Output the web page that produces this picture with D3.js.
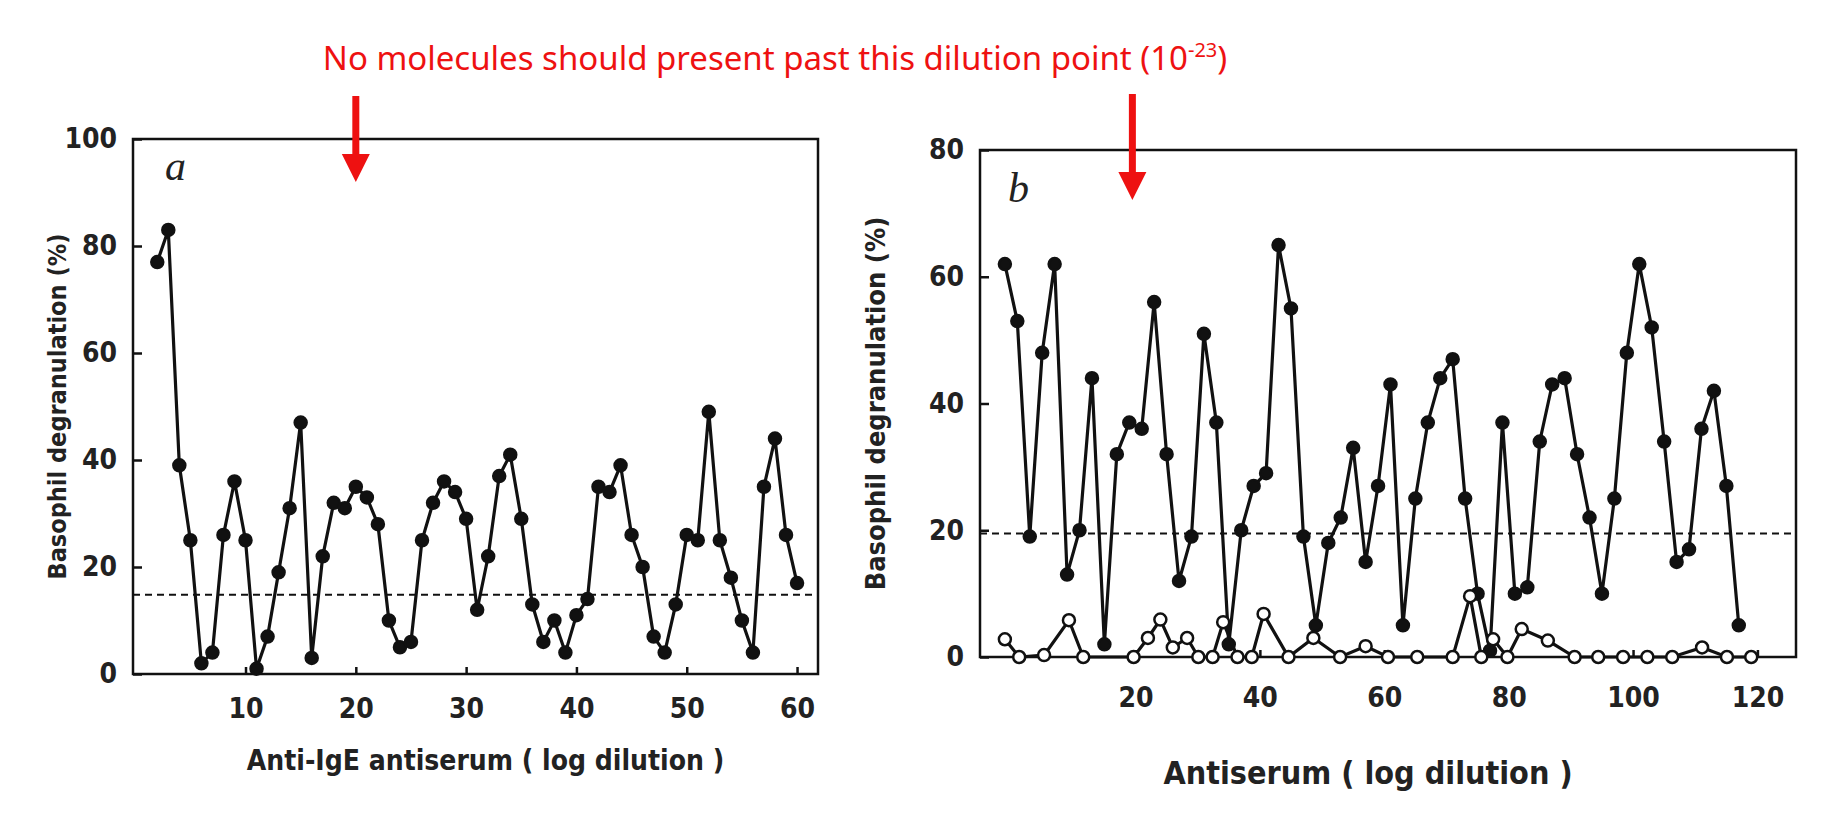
<script src="https://cdnjs.cloudflare.com/ajax/libs/d3/7.8.5/d3.min.js"></script>
<body style="margin:0;background:#fff">
<style>
  .tick text, .lbl { font-family: "Liberation Sans Narrow", "DejaVu Sans Condensed", sans-serif; font-weight: bold; fill: #222; }
</style>
<div id="chart"></div>
<script>
// panel a: anti-IgE, one point per log dilution 2..60
var aValues = [77,83,39,25,2,4,26,36,25,1,7,19,31,47,3,22,32,31,35,33,28,10,5,6,25,32,36,34,29,12,22,37,41,29,13,6,10,4,11,14,35,34,39,26,20,7,4,13,26,25,49,25,18,10,4,35,44,26,17];
var aX = aValues.map(function(d, i) { return i + 2; });
var aThreshold = 14.8;
// panel b: closed = antiserum, open = control
var bClosed = [62,53,19,48,62,13,20,44,2,32,37,36,56,32,12,19,51,37,2,20,27,29,65,55,19,5,18,22,33,15,27,43,5,25,37,44,47,25,10,1,37,10,11,34,43,44,32,22,10,25,48,62,52,34,15,17,36,42,27,5];
var bClosedX = bClosed.map(function(d, i) { return -1 + 2 * i; });
var bOpenX = [-1,1.3,5.3,9.3,11.6,19.7,22,24,26,28.3,30.1,32.4,34.1,36.4,38.7,40.6,44.6,48.6,52.9,57,60.6,65.3,71,73.8,75.6,77.5,79.8,82.1,86.3,90.6,94.4,98.4,102.3,106.3,111.1,115.1,119];
var bOpen = [2.8,0,0.3,5.8,0,0,3,5.9,1.5,3,0,0,5.5,0,0,6.8,0,3,0,1.7,0,0,0,9.6,0,2.8,0,4.4,2.6,0,0,0,0,0,1.5,0,0];
var bThreshold = 19.5;
var aTicksX = [10,20,30,40,50,60], aTicksY = [0,20,40,60,80,100];
var bTicksX = [20,40,60,80,100,120], bTicksY = [0,20,40,60,80];

var svg = d3.select("#chart").append("svg").attr("width", 1838).attr("height", 826);

function panel(o) {
  var x = d3.scaleLinear().domain(o.xd).range([o.left, o.right]);
  var y = d3.scaleLinear().domain(o.yd).range([o.bottom, o.top]);
  var g = svg.append("g");
  g.append("rect").attr("x", o.left).attr("y", o.top).attr("width", o.right - o.left)
    .attr("height", o.bottom - o.top).attr("fill", "none").attr("stroke", "#111").attr("stroke-width", 2.5);
  var xa = g.append("g").attr("transform", "translate(0," + o.bottom + ")")
    .call(d3.axisBottom(x).tickValues(o.tx).tickSize(-7).tickPadding(o.xPad).tickSizeOuter(0));
  var ya = g.append("g").attr("transform", "translate(" + o.left + ",0)")
    .call(d3.axisLeft(y).tickValues(o.ty).tickSize(-9).tickPadding(16).tickSizeOuter(0));
  [xa, ya].forEach(function(a) {
    a.select(".domain").remove();
    a.selectAll("line").attr("stroke", "#111").attr("stroke-width", 2.5);
    a.selectAll("text").attr("font-size", 28);
  });
  g.append("line").attr("x1", o.left).attr("x2", o.right).attr("y1", y(o.thr)).attr("y2", y(o.thr))
    .attr("stroke", "#111").attr("stroke-width", 2).attr("stroke-dasharray", "7,5");
  var line = d3.line().x(function(d) { return x(d[0]); }).y(function(d) { return y(d[1]); });
  o.series.forEach(function(s) {
    var pts = s.xs.map(function(v, i) { return [v, s.ys[i]]; });
    g.append("path").datum(pts).attr("d", line).attr("fill", "none").attr("stroke", "#111").attr("stroke-width", 3.2);
    g.selectAll(null).data(pts).enter().append("circle")
      .attr("cx", function(d) { return x(d[0]); }).attr("cy", function(d) { return y(d[1]); })
      .attr("r", 6).attr("fill", s.open ? "#fff" : "#111").attr("stroke", "#111").attr("stroke-width", 2.5);
  });
  g.append("text").attr("x", o.letter[0]).attr("y", o.letter[1]).text(o.name)
    .attr("font-family", "Liberation Serif, serif").attr("font-style", "italic").attr("font-size", 42).attr("fill", "#222");
  g.append("text").attr("class", "lbl").attr("x", (o.left + o.right) / 2 + o.xtOff).attr("y", o.xtY)
    .attr("text-anchor", "middle").attr("font-size", o.xtSize).text(o.xTitle);
  g.append("text").attr("class", "lbl").attr("transform", "translate(" + o.ytX + "," + ((o.top + o.bottom) / 2) + ") rotate(-90)")
    .attr("text-anchor", "middle").attr("font-size", o.ytSize).text("Basophil degranulation (%)");
  // arrow
  var ax = x(o.arrowAt);
  g.append("line").attr("x1", ax).attr("x2", ax).attr("y1", o.arrow[0]).attr("y2", o.arrow[1] - 20)
    .attr("stroke", "#ee1111").attr("stroke-width", 7);
  g.append("path").attr("d", "M" + (ax - 14) + "," + (o.arrow[1] - 28) + "L" + (ax + 14) + "," + (o.arrow[1] - 28) + "L" + ax + "," + o.arrow[1] + "Z")
    .attr("fill", "#ee1111");
}

panel({ xd: [-0.2, 61.9], yd: [0, 100], left: 133, right: 818, top: 139, bottom: 674, tx: aTicksX, ty: aTicksY,
  thr: aThreshold, series: [{ xs: aX, ys: aValues }], letter: [165, 180], name: "a", xPad: 24,
  xTitle: "Anti-IgE antiserum  ( log dilution )", xtY: 770, xtOff: 10, xtSize: 28, ytX: 66, ytSize: 25,
  arrowAt: 20, arrow: [96, 182] });
panel({ xd: [-5, 126.2], yd: [0, 80], left: 980, right: 1796, top: 150, bottom: 657, tx: bTicksX, ty: bTicksY,
  thr: bThreshold, series: [{ xs: bClosedX, ys: bClosed }, { xs: bOpenX, ys: bOpen, open: true }], letter: [1008, 202], name: "b", xPad: 30,
  xTitle: "Antiserum   ( log dilution )", xtY: 784, xtOff: -20, xtSize: 32, ytX: 885, ytSize: 27,
  arrowAt: 19.5, arrow: [94, 200] });

svg.append("text").attr("x", 775).attr("y", 70).attr("text-anchor", "middle")
  .attr("font-family", "Noto Sans, sans-serif").attr("font-size", 33).attr("fill", "#ee1111")
  .text("No molecules should present past this dilution point (10")
  .append("tspan").attr("font-size", 20).attr("dy", -13).text("-23")
  .select(function() { return this.parentNode; }).append("tspan").attr("dy", 13).text(")");
</script>
</body>
